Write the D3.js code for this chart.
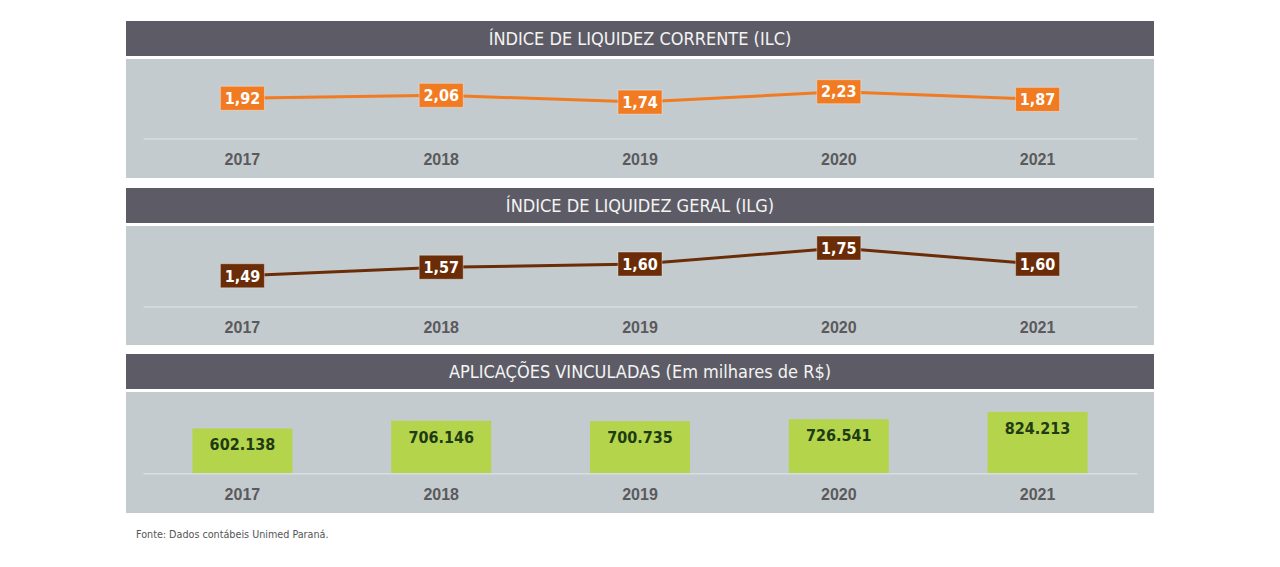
<!DOCTYPE html>
<html>
<head>
<meta charset="utf-8">
<script src="https://cdn.jsdelivr.net/npm/d3@7"></script>
<style>
  body { margin: 0; background: #fff; }
  svg { display: block; font-family: "DejaVu Sans Condensed", "DejaVu Sans", sans-serif; font-stretch: condensed; }
</style>
</head>
<body>
<svg id="chart" width="1280" height="567"></svg>
<script>
const years = ["2017", "2018", "2019", "2020", "2021"];
const ilcValues = [1.92, 2.06, 1.74, 2.23, 1.87];
const ilgValues = [1.49, 1.57, 1.60, 1.75, 1.60];
const aplicacoesValues = [602138, 706146, 700735, 726541, 824213];
const titles = [
    "ÍNDICE DE LIQUIDEZ CORRENTE (ILC)",
    "ÍNDICE DE LIQUIDEZ GERAL (ILG)",
    "APLICAÇÕES VINCULADAS (Em milhares de R$)"
];
const sourceNote = "Fonte: Dados contábeis Unimed Paraná.";

const ptBR = d3.formatLocale({decimal: ",", thousands: ".", grouping: [3], currency: ["R$", ""]});
const fmtIndex = ptBR.format(".2f");
const fmtMil = ptBR.format(",d");

const svg = d3.select("#chart");

const left = 126, right = 1154;

const x = d3.scaleBand()
            .domain(years)
            .range([143, 1137]);

// header + grey body for each block
function panel(top, title, bodyH) {
    svg.append("rect")
        .attr("x", left).attr("y", top)
        .attr("width", right - left).attr("height", 35)
        .attr("fill", "#5d5c66");
    svg.append("text")
        .attr("x", (left + right) / 2).attr("y", top + 24)
        .attr("text-anchor", "middle")
        .attr("font-size", 18)
        .attr("fill", "#f4f4f4")
        .text(title);
    svg.append("rect")
        .attr("x", left).attr("y", top + 38)
        .attr("width", right - left).attr("height", bodyH)
        .attr("fill", "#c4cbce");
}

function yearAxis(baseY) {
    const axis = d3.axisBottom(x).tickSize(0).tickSizeOuter(0).tickPadding(15);
    const g = svg.append("g")
        .attr("transform", `translate(0,${baseY})`)
        .call(axis);
    g.select(".domain").attr("stroke", "#d9dddf").attr("stroke-width", 1.5);
    g.selectAll("text")
        .attr("font-family", null)
        .attr("font-size", 16)
        .attr("font-weight", "bold")
        .attr("fill", "#5a5a5c");
}

function lineChart(values, y, color) {
    const data = years.map((yr, i) => ({year: yr, value: values[i]}));
    const cx = d => x(d.year) + x.bandwidth() / 2;

    svg.append("path")
        .datum(data)
        .attr("fill", "none")
        .attr("stroke", color)
        .attr("stroke-width", 3)
        .attr("d", d3.line().x(cx).y(d => y(d.value)));

    const lab = svg.append("g").selectAll("g")
        .data(data)
        .join("g")
        .attr("transform", d => `translate(${cx(d)},${y(d.value)})`);
    lab.append("rect")
        .attr("x", -22).attr("y", -12)
        .attr("width", 44).attr("height", 24)
        .attr("fill", color)
        .attr("stroke", "rgba(255,255,255,0.35)")
        .attr("stroke-width", 1);
    lab.append("text")
        .attr("text-anchor", "middle")
        .attr("dy", "0.36em")
        .attr("font-size", 16)
        .attr("font-weight", "bold")
        .attr("fill", "#fff")
        .text(d => fmtIndex(d.value));
}

// ILC
panel(21, titles[0], 119);
const yIlc = d3.scaleLinear().domain([0, 2.5]).range([139, 86]);
yearAxis(138.5);
lineChart(ilcValues, yIlc, "#f07b22");

// ILG
panel(188, titles[1], 119);
const yIlg = d3.scaleLinear().domain([1.2, 1.8]).range([306.7, 242.7]);
yearAxis(306.5);
lineChart(ilgValues, yIlg, "#6b2d08");

// Aplicações vinculadas
panel(354, titles[2], 121);
const yApl = d3.scaleLinear().domain([0, 900000]).range([473.3, 406.3]);
const barW = 100;
const bars = svg.append("g").selectAll("g")
    .data(years.map((yr, i) => ({year: yr, value: aplicacoesValues[i]})))
    .join("g");
bars.append("rect")
    .attr("x", d => x(d.year) + x.bandwidth() / 2 - barW / 2)
    .attr("y", d => yApl(d.value))
    .attr("width", barW)
    .attr("height", d => yApl(0) - yApl(d.value))
    .attr("fill", "#b3d44b");
bars.append("text")
    .attr("x", d => x(d.year) + x.bandwidth() / 2)
    .attr("y", d => yApl(d.value) + 22)
    .attr("text-anchor", "middle")
    .attr("font-size", 16)
    .attr("font-weight", "bold")
    .attr("fill", "#1f3b14")
    .text(d => fmtMil(d.value));
yearAxis(473.3);

svg.append("text")
    .attr("x", 136).attr("y", 538)
    .attr("font-size", 10.7)
    .attr("fill", "#555")
    .text(sourceNote);
</script>
</body>
</html>
